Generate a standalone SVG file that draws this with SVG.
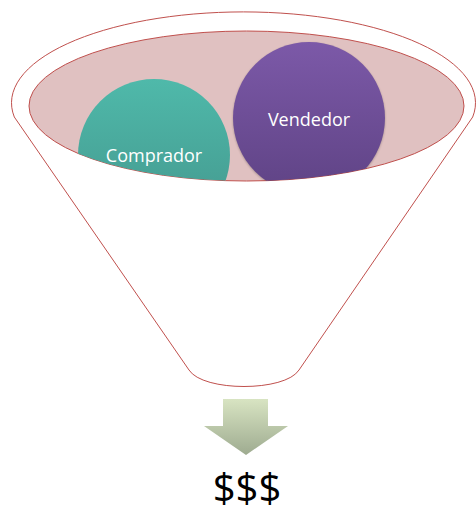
<svg xmlns="http://www.w3.org/2000/svg" width="476" height="514" viewBox="0 0 476 514">
<style>
.lbl{font-family:"Open Sans","Liberation Sans",sans-serif;fill:#ffffff;font-size:18px;text-anchor:middle}
.funnel{fill:#ffffff;stroke:#c0504d;stroke-width:1}
</style>
<defs>
<linearGradient id="teal" x1="0" y1="0" x2="0" y2="1">
<stop offset="0" stop-color="#4fb9aa"/><stop offset="1" stop-color="#43968c"/>
</linearGradient>
<linearGradient id="purple" x1="0" y1="0" x2="0" y2="1">
<stop offset="0" stop-color="#7c59a8"/><stop offset="1" stop-color="#5f4385"/>
</linearGradient>
<linearGradient id="arrowg" x1="0" y1="0" x2="0" y2="1">
<stop offset="0" stop-color="#d8e4c2"/><stop offset="1" stop-color="#9eab90"/>
</linearGradient>
<clipPath id="bowl"><ellipse cx="246.5" cy="106" rx="217.5" ry="75"/></clipPath>
<filter id="sh" x="-10%" y="-10%" width="120%" height="120%"><feGaussianBlur stdDeviation="1"/></filter>
</defs>
<g id="funnel">
<path class="funnel" d="M 14.3,117 A 232,91 0 1 1 472.7,117 L 299,370 C 285,392 203,392 189,370 Z"/>
<ellipse cx="246.5" cy="106" rx="217.5" ry="75" fill="#e0c1c1" stroke="#c0504d" stroke-width="1"/>
</g>
<g id="comprador" clip-path="url(#bowl)">
<circle cx="154" cy="155" r="76" fill="url(#teal)"/>
<text class="lbl" x="154" y="162">Comprador</text>
</g>
<g id="vendedor" clip-path="url(#bowl)">
<circle cx="309" cy="119" r="76" fill="#000" opacity="0.25" filter="url(#sh)"/>
<circle cx="309" cy="118" r="76" fill="url(#purple)"/>
<text class="lbl" x="309" y="126">Vendedor</text>
</g>
<g id="connectors">
<path d="M 223,399 L 268,399 L 268,426 L 288,426 L 246,455 L 204,426 L 223,426 Z" fill="url(#arrowg)"/>
</g>
<g id="money">
<text x="247" y="502" font-family="'Open Sans','Liberation Sans',sans-serif" font-size="40" text-anchor="middle" fill="#000">$$$</text>
</g>
</svg>
